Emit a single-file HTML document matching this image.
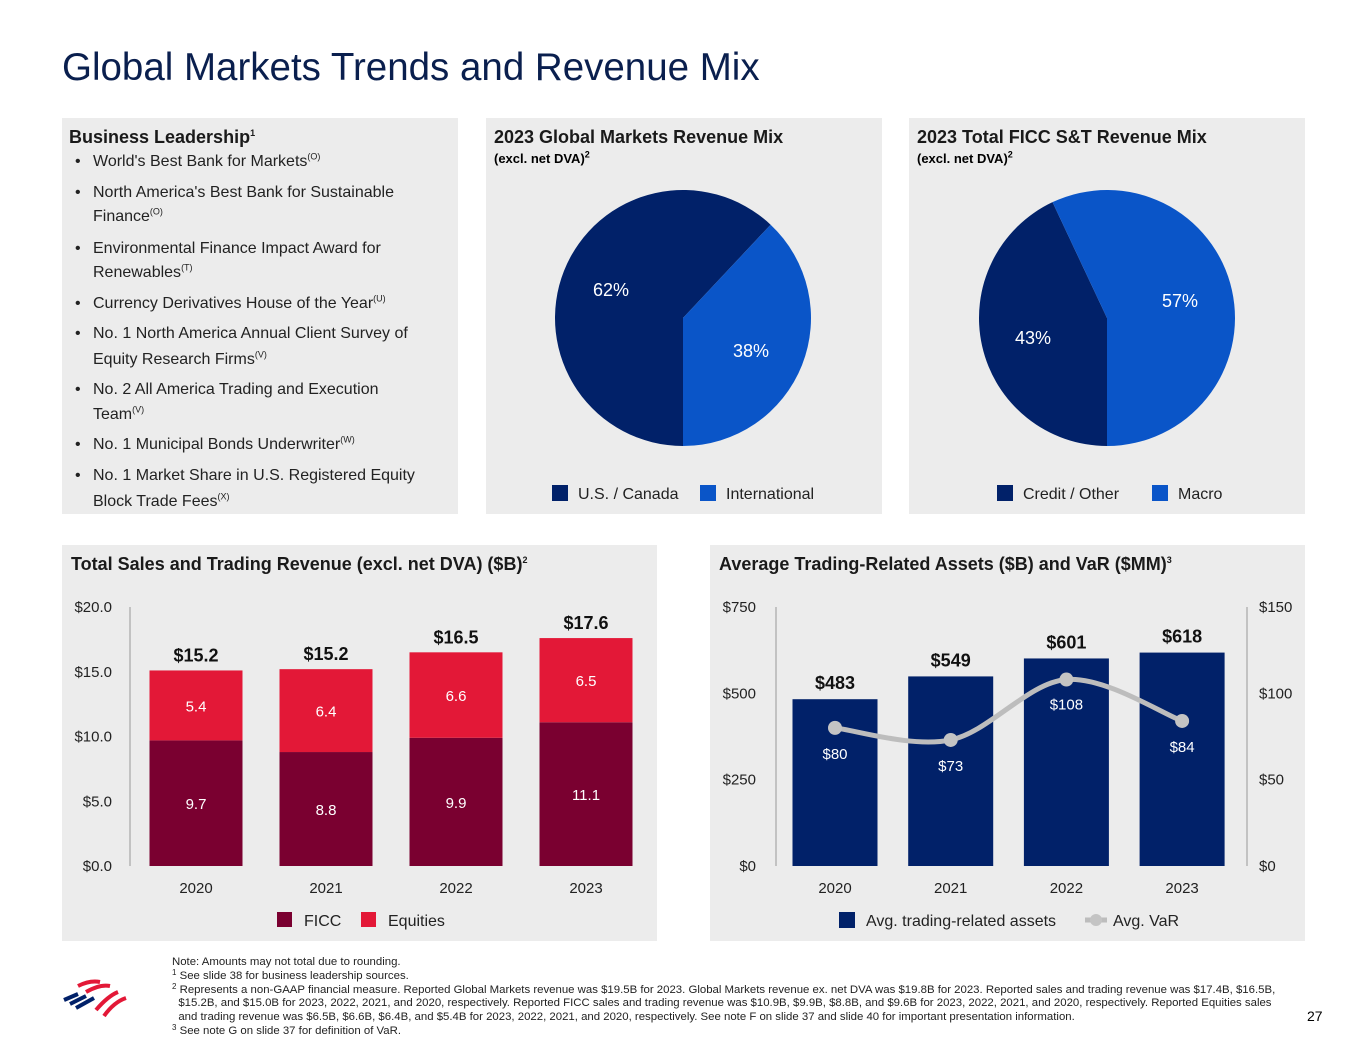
<!DOCTYPE html>
<html><head><meta charset="utf-8"><style>
body{margin:0;width:1365px;height:1055px;background:#fff;font-family:"Liberation Sans",sans-serif;position:relative;overflow:hidden;color:#000}
.a{position:absolute;white-space:nowrap}
.panel{position:absolute;background:#ececec}
.h{font-weight:bold;font-size:18px;color:#1a1a1a}
.b{font-size:16px;color:#222}
sup{font-size:9px;line-height:0}
.fn{font-size:11.4px;color:#222;line-height:13.8px}
.fn sup{font-size:8px;vertical-align:4px}
</style></head><body>
<div class="a" style="left:62px;top:46px;font-size:38.5px;color:#0a1f4e">Global Markets Trends and Revenue Mix</div>

<div class="panel" style="left:62px;top:118px;width:396px;height:396px"></div>
<div class="panel" style="left:486px;top:118px;width:396px;height:396px"></div>
<div class="panel" style="left:909px;top:118px;width:396px;height:396px"></div>
<div class="panel" style="left:62px;top:545px;width:595px;height:396px"></div>
<div class="panel" style="left:710px;top:545px;width:595px;height:396px"></div>

<div class="a h" style="left:69px;top:127px">Business Leadership<sup>1</sup></div>
<div>
<div class="a b" style="left:75px;top:153px">•</div><div class="a b" style="left:93px;top:153px">World's Best Bank for Markets<sup>(O)</sup></div>
<div class="a b" style="left:75px;top:184px">•</div><div class="a b" style="left:93px;top:184px">North America's Best Bank for Sustainable</div>
<div class="a b" style="left:93px;top:208px">Finance<sup>(O)</sup></div>
<div class="a b" style="left:75px;top:240px">•</div><div class="a b" style="left:93px;top:240px">Environmental Finance Impact Award for</div>
<div class="a b" style="left:93px;top:264px">Renewables<sup>(T)</sup></div>
<div class="a b" style="left:75px;top:295px">•</div><div class="a b" style="left:93px;top:295px">Currency Derivatives House of the Year<sup>(U)</sup></div>
<div class="a b" style="left:75px;top:325px">•</div><div class="a b" style="left:93px;top:325px">No. 1 North America Annual Client Survey of</div>
<div class="a b" style="left:93px;top:351px">Equity Research Firms<sup>(V)</sup></div>
<div class="a b" style="left:75px;top:381px">•</div><div class="a b" style="left:93px;top:381px">No. 2 All America Trading and Execution</div>
<div class="a b" style="left:93px;top:406px">Team<sup>(V)</sup></div>
<div class="a b" style="left:75px;top:436px">•</div><div class="a b" style="left:93px;top:436px">No. 1 Municipal Bonds Underwriter<sup>(W)</sup></div>
<div class="a b" style="left:75px;top:467px">•</div><div class="a b" style="left:93px;top:467px">No. 1 Market Share in U.S. Registered Equity</div>
<div class="a b" style="left:93px;top:493px">Block Trade Fees<sup>(X)</sup></div>
</div>

<div class="a h" style="left:494px;top:127px">2023 Global Markets Revenue Mix</div>
<div class="a" style="left:494px;top:151px;font-size:13px;font-weight:bold">(excl. net DVA)<sup>2</sup></div>
<div class="a h" style="left:917px;top:127px">2023 Total FICC S&amp;T Revenue Mix</div>
<div class="a" style="left:917px;top:151px;font-size:13px;font-weight:bold">(excl. net DVA)<sup>2</sup></div>
<div class="a h" style="left:71px;top:554px">Total Sales and Trading Revenue (excl. net DVA) ($B)<sup>2</sup></div>
<div class="a h" style="left:719px;top:554px">Average Trading-Related Assets ($B) and VaR ($MM)<sup>3</sup></div>

<svg id="c" width="1365" height="1055" style="position:absolute;left:0;top:0" font-family="Liberation Sans, sans-serif"></svg>

<svg class="a" style="left:60px;top:970px" width="70" height="50" viewBox="0 0 70 50">
<g stroke-linecap="butt">
<path d="M4 30 L18 24" stroke="#012169" stroke-width="4"/>
<path d="M10 34 L26 26" stroke="#012169" stroke-width="4"/>
<path d="M16 38 L34 28" stroke="#012169" stroke-width="4"/>
<path d="M18 16 Q30 10 40 12" stroke="#e31837" stroke-width="4" fill="none"/>
<path d="M26 22 Q40 14 50 16" stroke="#e31837" stroke-width="4" fill="none"/>
<path d="M36 40 Q48 26 58 22" stroke="#e31837" stroke-width="4" fill="none"/>
<path d="M44 46 Q54 32 66 28" stroke="#e31837" stroke-width="4" fill="none"/>
</g></svg>
<div class="a fn" style="left:172px;top:956px;white-space:nowrap">
Note: Amounts may not total due to rounding.<br>
<sup>1</sup> See slide 38 for business leadership sources.<br>
<sup>2</sup> Represents a non-GAAP financial measure. Reported Global Markets revenue was $19.5B for 2023. Global Markets revenue ex. net DVA was $19.8B for 2023. Reported sales and trading revenue was $17.4B, $16.5B,<br>
&nbsp;&nbsp;$15.2B, and $15.0B for 2023, 2022, 2021, and 2020, respectively. Reported FICC sales and trading revenue was $10.9B, $9.9B, $8.8B, and $9.6B for 2023, 2022, 2021, and 2020, respectively. Reported Equities sales<br>
&nbsp;&nbsp;and trading revenue was $6.5B, $6.6B, $6.4B, and $5.4B for 2023, 2022, 2021, and 2020, respectively. See note F on slide 37 and slide 40 for important presentation information.<br>
<sup>3</sup> See note G on slide 37 for definition of VaR.</div>
<div class="a" style="left:1307px;top:1008px;font-size:14px">27</div>

<script>
const years=['2020','2021','2022','2023'];
const ficc=[9.7,8.8,9.9,11.1];
const equities=[5.4,6.4,6.6,6.5];
const stTotals=['$15.2','$15.2','$16.5','$17.6'];
const stTicks=[0,5,10,15,20];
const assets=[483,549,601,618];
const varVals=[80,73,108,84];
const assetTicks=[0,250,500,750];
const varTicks=[0,50,100,150];
const mix1=[62,38];
const mix1Labels=['U.S. / Canada','International'];
const mix2=[43,57];
const mix2Labels=['Credit / Other','Macro'];

const NS='http://www.w3.org/2000/svg';
const svg=document.getElementById('c');
function el(tag,attrs,parent){const e=document.createElementNS(NS,tag);for(const k in attrs)e.setAttribute(k,attrs[k]);(parent||svg).appendChild(e);return e;}
function txt(x,y,s,attrs){const t=el('text',Object.assign({x:x,y:y,'text-anchor':'middle'},attrs||{}));t.textContent=s;return t;}
const NAVY='#012169',BLUE='#0a55c8',RED='#e31837',MAROON='#7a0030';

// Left chart
const L={x0:130,y0:866,y1:607,cx0:196,step:130,bw:93,max:20};
const ly=v=>L.y0-(v/L.max)*(L.y0-L.y1);
const lx=i=>L.cx0+i*L.step;
let e=el('line',{x1:L.x0,y1:L.y1,x2:L.x0,y2:L.y0,stroke:'#999','stroke-width':1});


stTicks.forEach(v=>{const t=txt(112,ly(v)+5,'$'+v.toFixed(1),{'text-anchor':'end','font-size':15,fill:'#222'});

});
years.forEach((y,i)=>{
 const cx=lx(i);
 const r1=el('rect',{x:cx-L.bw/2,y:ly(ficc[i]),width:L.bw,height:L.y0-ly(ficc[i]),fill:MAROON});
 
 
 const top=ficc[i]+equities[i];
 const r2=el('rect',{x:cx-L.bw/2,y:ly(top),width:L.bw,height:ly(ficc[i])-ly(top),fill:RED});
 
 
 txt(cx,(ly(ficc[i])+L.y0)/2+6,ficc[i].toFixed(1),{'font-size':15,fill:'#fff'});
 txt(cx,(ly(top)+ly(ficc[i]))/2+6,equities[i].toFixed(1),{'font-size':15,fill:'#fff'});
 const tt=txt(cx,ly(top)-9,stTotals[i],{'font-size':18,'font-weight':'bold',fill:'#111'});
 
 
 const xl=txt(cx,893,y,{'font-size':15,fill:'#222'});
 
 
});
el('rect',{x:277,y:912,width:15,height:15,fill:MAROON});
txt(304,926,'FICC',{'text-anchor':'start','font-size':16,fill:'#222'});
el('rect',{x:361,y:912,width:15,height:15,fill:RED});
txt(388,926,'Equities',{'text-anchor':'start','font-size':16,fill:'#222'});

// Right chart
const R={xl:776,xr:1247,y0:866,y1:607,cx0:835,step:115.7,bw:85,max:750,vmax:150};
const ry=v=>R.y0-(v/R.max)*(R.y0-R.y1);
const vy=v=>R.y0-(v/R.vmax)*(R.y0-R.y1);
const rx=i=>R.cx0+i*R.step;
el('line',{x1:R.xl,y1:R.y1,x2:R.xl,y2:R.y0,stroke:'#999'});
el('line',{x1:R.xr,y1:R.y1,x2:R.xr,y2:R.y0,stroke:'#999'});
assetTicks.forEach(v=>{const t=txt(756,ry(v)+5,'$'+v,{'text-anchor':'end','font-size':15,fill:'#222'});

});
varTicks.forEach(v=>{const t=txt(1259,vy(v)+5,'$'+v,{'text-anchor':'start','font-size':15,fill:'#222'});

});
years.forEach((y,i)=>{
 const cx=rx(i);
 const r=el('rect',{x:cx-R.bw/2,y:ry(assets[i]),width:R.bw,height:R.y0-ry(assets[i]),fill:NAVY});
 
 
 txt(cx,ry(assets[i])-10,'$'+assets[i],{'font-size':18,'font-weight':'bold',fill:'#111'});
 const xl=txt(cx,893,y,{'font-size':15,fill:'#222'});
 
 
});
const pts=varVals.map((v,i)=>[rx(i),vy(v)]);
let d='M'+pts[0][0]+' '+pts[0][1];
for(let i=0;i<pts.length-1;i++){
 const p0=pts[Math.max(0,i-1)],p1=pts[i],p2=pts[i+1],p3=pts[Math.min(pts.length-1,i+2)];
 const c1=[p1[0]+(p2[0]-p0[0])/6,p1[1]+(p2[1]-p0[1])/6],c2=[p2[0]-(p3[0]-p1[0])/6,p2[1]-(p3[1]-p1[1])/6];
 d+=' C'+c1[0]+' '+c1[1]+' '+c2[0]+' '+c2[1]+' '+p2[0]+' '+p2[1];
}
const ln=el('path',{d:d,fill:'none',stroke:'#bdbdbd','stroke-width':5});


pts.forEach((p,i)=>{
 const c=el('circle',{cx:p[0],cy:p[1],r:7,fill:'#c4c4c4'});
 
 
 txt(p[0],p[1]+(i==2?30:31),'$'+varVals[i],{'font-size':15,fill:'#fff'});
});
el('rect',{x:839,y:912,width:16,height:16,fill:NAVY});
txt(866,926,'Avg. trading-related assets',{'text-anchor':'start','font-size':16,fill:'#222'});
el('line',{x1:1085,y1:920,x2:1107,y2:920,stroke:'#bdbdbd','stroke-width':5});
el('circle',{cx:1096,cy:920,r:6,fill:'#c4c4c4'});
txt(1113,926,'Avg. VaR',{'text-anchor':'start','font-size':16,fill:'#222'});

// Pies
function pie(cx,cy,r,vals,cols,labels,labelPos,name){
 const tot=vals.reduce((a,b)=>a+b,0);
 let start=180-vals[1]/tot*360;
 const slices=[[180,start+360],[start,180]];
 slices.forEach((s,i)=>{
  const a0=s[0]*Math.PI/180,a1=s[1]*Math.PI/180;
  const x0=cx+r*Math.sin(a0),y0=cy-r*Math.cos(a0),x1=cx+r*Math.sin(a1),y1=cy-r*Math.cos(a1);
  const large=(s[1]-s[0])>180?1:0;
  const p=el('path',{d:`M${cx} ${cy} L${x0} ${y0} A${r} ${r} 0 ${large} 1 ${x1} ${y1} Z`,fill:cols[i]});
  
  
  txt(labelPos[i][0],labelPos[i][1],vals[i]+'%',{'font-size':18,fill:'#fff'});
 });
}
pie(683,318,128,mix1,[NAVY,BLUE],mix1Labels,[[611,296],[751,357]],'revenue-mix');
pie(1107,318,128,mix2,[NAVY,BLUE],mix2Labels,[[1033,344],[1180,307]],'ficc-mix');
[[552,mix1Labels[0],NAVY],[700,mix1Labels[1],BLUE],[997,mix2Labels[0],NAVY],[1152,mix2Labels[1],BLUE]].forEach(l=>{
 el('rect',{x:l[0],y:485,width:16,height:16,fill:l[2]});
 const t=txt(l[0]+26,499,l[1],{'text-anchor':'start','font-size':16,fill:'#222'});
 
 
});
</script>
</body></html>
